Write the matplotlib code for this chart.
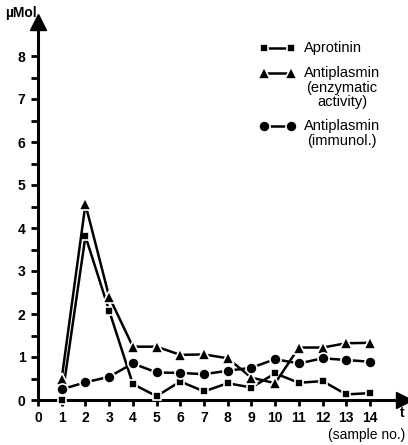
import matplotlib
matplotlib.use("Agg")
import matplotlib.pyplot as plt
from matplotlib.lines import Line2D
import numpy as np

samples = [1, 2, 3, 4, 5, 6, 7, 8, 9, 10, 11, 12, 13, 14]
aprotinin = [0.0, 3.81, 2.08, 0.37, 0.09, 0.43, 0.20, 0.39, 0.29, 0.62, 0.40, 0.44, 0.13, 0.16]
antiplasmin_enz = [0.50, 4.55, 2.40, 1.24, 1.24, 1.05, 1.06, 0.97, 0.52, 0.39, 1.22, 1.22, 1.32, 1.33]
antiplasmin_imm = [0.25, 0.41, 0.54, 0.85, 0.64, 0.63, 0.60, 0.68, 0.75, 0.95, 0.85, 0.97, 0.93, 0.89]
series_labels = ['Aprotinin', 'Antiplasmin\n(enzymatic\nactivity)', 'Antiplasmin\n(immunol.)']
xticks = list(range(0, 15))
yticks = list(range(0, 9))

plt.rcParams['font.family'] = ['Liberation Sans', 'DejaVu Sans']

W, H = 408, 445
fig = plt.figure(figsize=(W/100, H/100), dpi=100)
x0, x_end = 38, 404
y0, y_top = 400, 22
ax = fig.add_axes([x0/W, 1 - y0/H, (x_end - x0)/W, (y0 - y_top)/H])
px_per_x = (370 - 38) / 14
px_per_y = 43.0
ax.set_xlim(0, (x_end - x0)/px_per_x)
ax.set_ylim(0, (y0 - y_top)/px_per_y)

for s in ['top', 'right']:
    ax.spines[s].set_visible(False)
for s in ['left', 'bottom']:
    ax.spines[s].set_linewidth(2.2)
    ax.spines[s].set_capstyle('butt')

markers = ['s', '^', 'o']
msizes = [5.5, 8, 8]
series = [aprotinin, antiplasmin_enz, antiplasmin_imm]
style = dict(color='black', lw=1.8, markeredgecolor='white', markeredgewidth=1.2,
             markerfacecolor='black', clip_on=False)
for vals, m, ms in zip(series, markers, msizes):
    ax.plot(samples, vals, marker=m, ms=ms, zorder=3, **style)

ax.set_xticks(xticks)
ax.set_yticks(yticks)
ax.set_yticks(np.arange(0.5, 8.5, 1.0), minor=True)
ax.tick_params(axis='both', which='both', direction='out', width=2, length=5,
               labelsize=10)
ax.tick_params(axis='x', which='major', length=4, pad=4)
ax.tick_params(axis='y', which='major', pad=4)
for lab in ax.get_xticklabels() + ax.get_yticklabels():
    lab.set_fontweight('bold')

# axis arrows
ax.plot(0, 1, marker='^', color='black', ms=11, transform=ax.transAxes, clip_on=False)
ax.plot(1, 0, marker='>', color='black', ms=11, transform=ax.transAxes, clip_on=False)

fig.text(5/W, 1 - 13/H, 'µMol', fontsize=10, fontweight='bold', va='center', ha='left')
fig.text(402/W, 1 - 413/H, 't', fontsize=10, fontweight='bold', va='center', ha='center')
fig.text(405/W, 1 - 435/H, '(sample no.)', fontsize=10, va='center', ha='right')

# manual legend (handles aligned with first text line)
leg_y = [48, 73, 126]
for lab, m, ms, yy in zip(series_labels, markers, msizes, leg_y):
    fy = 1 - yy/H
    fig.add_artist(Line2D([264/W, 291/W], [fy, fy], transform=fig.transFigure,
                          marker=m, ms=ms, **style))
    fig.text(304/W, 1 - (yy - 7)/H, lab, fontsize=10.5, ha='left', va='top',
             multialignment='center', linespacing=1.05)

fig.savefig('out.png', dpi=100)
